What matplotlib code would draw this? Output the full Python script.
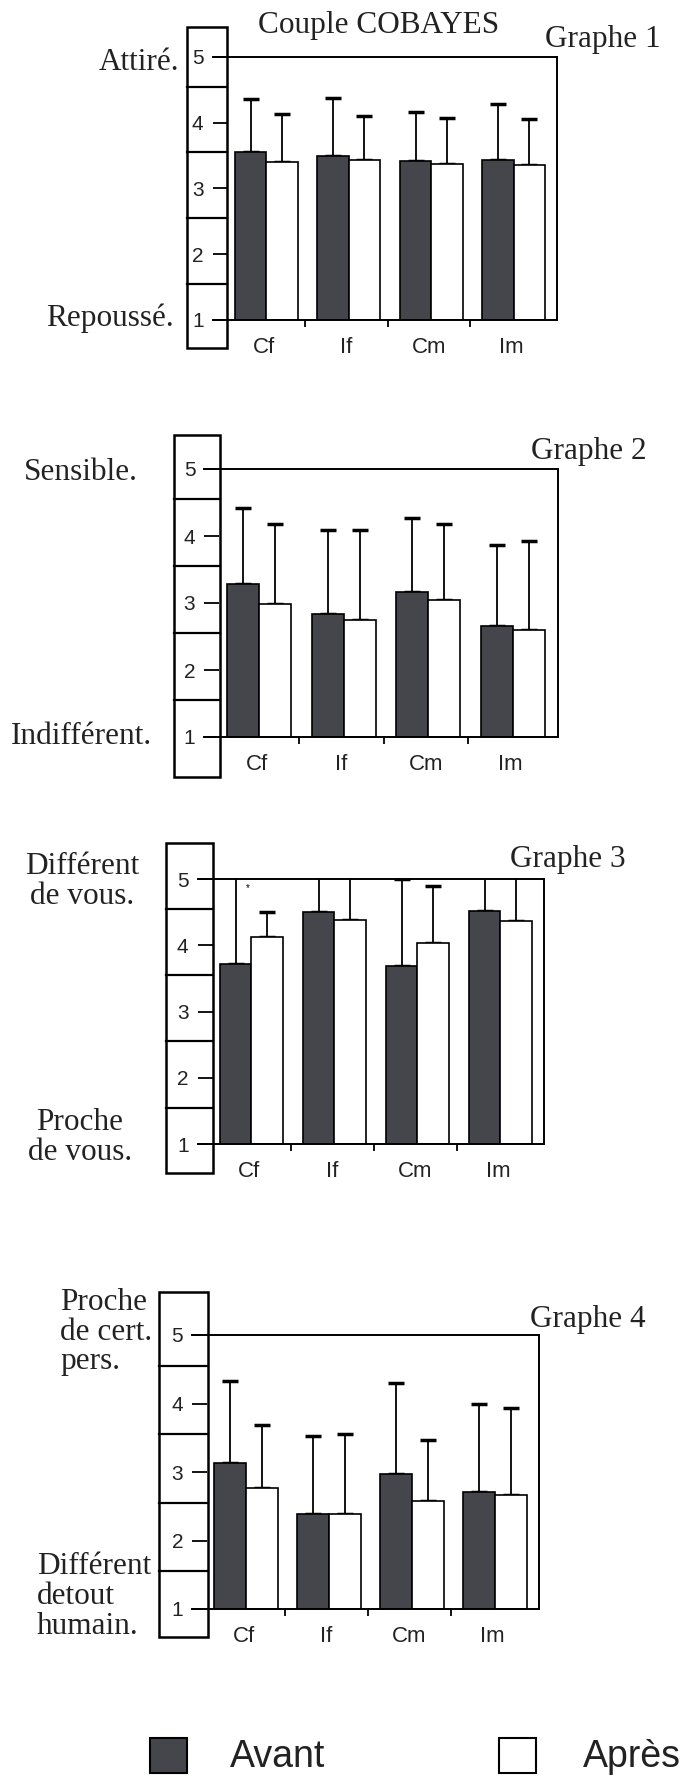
import matplotlib.pyplot as plt
from matplotlib.patches import Rectangle
from matplotlib.transforms import blended_transform_factory

plt.rcParams['font.family'] = ['Liberation Sans', 'DejaVu Sans']

W, H = 682, 1778

# données
categories = ["Cf", "If", "Cm", "Im"]
legend_labels = ["Avant", "Après"]
yticks = [1, 2, 3, 4, 5]

# Graphe 1
g1_avant = [3.55, 3.49, 3.42, 3.44]
g1_avant_sd = [0.81, 0.88, 0.74, 0.84]
g1_apres = [3.41, 3.43, 3.38, 3.36]
g1_apres_sd = [0.72, 0.68, 0.69, 0.69]

# Graphe 2
g2_avant = [3.28, 2.84, 3.16, 2.66]
g2_avant_sd = [1.14, 1.25, 1.11, 1.20]
g2_apres = [2.98, 2.75, 3.05, 2.60]
g2_apres_sd = [1.20, 1.34, 1.13, 1.32]

# Graphe 3 (les barres d'erreur qui dépassent 5 sont coupées par le cadre)
g3_avant = [3.72, 4.50, 3.68, 4.52]
g3_avant_sd = [1.40, 0.70, 1.32, 0.70]
g3_apres = [4.12, 4.38, 4.03, 4.37]
g3_apres_sd = [0.38, 0.80, 0.87, 0.80]

# Graphe 4
g4_avant = [3.13, 2.39, 2.97, 2.71]
g4_avant_sd = [1.20, 1.14, 1.33, 1.28]
g4_apres = [2.77, 2.39, 2.58, 2.66]
g4_apres_sd = [0.92, 1.16, 0.89, 1.27]

avant = [g1_avant, g2_avant, g3_avant, g4_avant]
avant_sd = [g1_avant_sd, g2_avant_sd, g3_avant_sd, g4_avant_sd]
apres = [g1_apres, g2_apres, g3_apres, g4_apres]
apres_sd = [g1_apres_sd, g2_apres_sd, g3_apres_sd, g4_apres_sd]

graph_names = ["Graphe 1", "Graphe 2", "Graphe 3", "Graphe 4"]
top_labels = [["Attiré."], ["Sensible."], ["Différent", "de vous."],
              ["Proche", "de cert.", "pers."]]
bottom_labels = [["Repoussé."], ["Indifférent."], ["Proche", "de vous."],
                 ["Différent", "detout", "humain."]]

# mise en page en pixels : case de gauche (g, d, haut, bas), début et pas des
# catégories, y des graduations 5 et 1, position des textes
layout = [
    dict(box=(187, 227, 27, 348), b0=222.5, step=82.5, y5=57, y1=320,
         name=(545, 40), top=(179, 62, 'right'), bot=(174, 318, 'right')),
    dict(box=(174, 220, 435, 777), b0=214.5, step=84.5, y5=469, y1=737,
         name=(531, 451), top=(81, 472, 'center'), bot=(81, 736, 'center')),
    dict(box=(166, 213, 843, 1173), b0=207.5, step=83, y5=879, y1=1144,
         name=(510, 860), top=(82, 867, 'center'), bot=(80, 1123, 'center')),
    dict(box=(159, 208, 1292, 1637), b0=202, step=83, y5=1335, y1=1609,
         name=(530, 1320), top=(60, 1303, 'left'), bot=(37, 1567, 'left')),
]

DARK = '#45454c'
SERIF = 22.5
fx = lambda x: x / W
fy = lambda y: 1 - y / H

fig = plt.figure(figsize=(W / 100, H / 100), dpi=100)
fig.patch.set_facecolor('white')

x = list(range(len(categories)))
w = 0.38
for k in range(4):
    L = layout[k]
    left = L['b0'] - 0.12 * L['step']
    right = L['b0'] + 4.06 * L['step']
    ax = fig.add_axes([fx(left), fy(L['y1']), (right - left) / W, (L['y1'] - L['y5']) / H])
    ax.set_xlim(-0.62, 3.56)
    ax.set_ylim(1, 5)

    xa = [i + 0.03 - w / 2 for i in x]
    xb = [i + 0.03 + w / 2 for i in x]
    ax.bar(xa, [v - 1 for v in avant[k]], bottom=1, width=w, color=DARK,
           edgecolor='black', linewidth=1.2, zorder=2)
    ax.bar(xb, [v - 1 for v in apres[k]], bottom=1, width=w, color='white',
           edgecolor='black', linewidth=1.2, zorder=2)
    ax.errorbar(xa, avant[k], yerr=[[0] * 4, avant_sd[k]], fmt='none', ecolor='black',
                elinewidth=1.3, capsize=6, capthick=2.5, zorder=1)
    ax.errorbar(xb, apres[k], yerr=[[0] * 4, apres_sd[k]], fmt='none', ecolor='black',
                elinewidth=1.3, capsize=6, capthick=2.5, zorder=1)

    ax.spines['left'].set_visible(False)
    for s in ['top', 'right', 'bottom']:
        ax.spines[s].set_linewidth(1.4)
    ax.set_yticks(yticks)
    ax.set_yticklabels([str(t) for t in yticks])
    ax.tick_params(axis='y', direction='in', length=11, width=1.3, pad=6.5,
                   labelsize=15, labelcolor='#222222')
    ax.set_xticks([0.5, 1.5, 2.5])
    ax.set_xticklabels([])
    ax.tick_params(axis='x', which='major', direction='out', length=5, width=1.3)
    ax.set_xticks(x, minor=True)
    ax.set_xticklabels(categories, minor=True)
    ax.tick_params(axis='x', which='minor', length=0, pad=12, labelsize=16,
                   labelcolor='#222222')

    # case de gauche avec ses séparations
    bl, br, bt, bb = L['box']
    fig.add_artist(Rectangle((fx(bl), fy(bb)), fx(br) - fx(bl), fy(bt) - fy(bb),
                             transform=fig.transFigure, fill=False, lw=1.8,
                             edgecolor='black'))
    tr = blended_transform_factory(fig.transFigure, ax.transData)
    for v in [1.55, 2.55, 3.55, 4.55]:
        ax.plot([fx(bl), fx(br)], [v, v], transform=tr, clip_on=False,
                color='black', lw=1.6)

    # textes
    fig.text(fx(L['name'][0]), fy(L['name'][1]), graph_names[k], ha='left', va='center',
             family='Liberation Serif', fontsize=SERIF, color='#222222')
    tx, ty, ha = L['top']
    for j, line in enumerate(top_labels[k]):
        fig.text(fx(tx), fy(ty + 29.5 * j), line, ha=ha, va='center',
                 family='Liberation Serif', fontsize=SERIF, color='#222222')
    tx, ty, ha = L['bot']
    for j, line in enumerate(bottom_labels[k]):
        fig.text(fx(tx), fy(ty + 29.5 * j), line, ha=ha, va='center',
                 family='Liberation Serif', fontsize=SERIF, color='#222222')

    if k == 2:
        ax.text(-0.02, 4.86, '*', fontsize=7, ha='center', va='center')

fig.text(fx(379), fy(26), "Couple COBAYES", ha='center', va='center',
         family='Liberation Serif', fontsize=SERIF, color='#222222')

# légende
for (sx, col, tx), lab in zip([(150, DARK, 230), (499, 'white', 583)], legend_labels):
    fig.add_artist(Rectangle((fx(sx), fy(1773)), 37 / W, 35 / H, transform=fig.transFigure,
                             facecolor=col, edgecolor='black', lw=1.5))
    fig.text(fx(tx), fy(1757), lab, ha='left', va='center', fontsize=27, color='#222222')

fig.savefig('out.png', dpi=100)
